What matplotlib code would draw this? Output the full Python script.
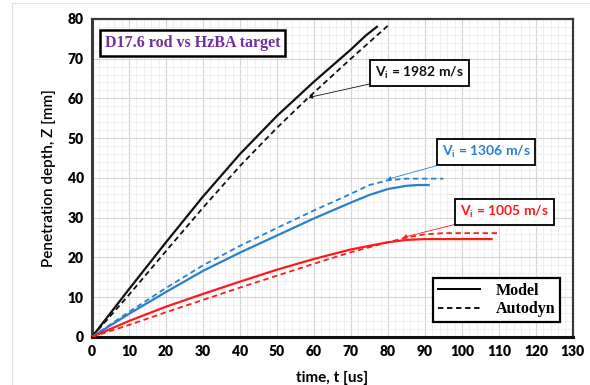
import numpy as np
import matplotlib
matplotlib.use("Agg")
import matplotlib.pyplot as plt
from matplotlib.patches import Rectangle

# penetration depth Z [mm] vs time t [us]
t_1982_model = [0, 10, 20, 30, 40, 50, 60, 70, 74, 77]
z_1982_model = [0, 12.0, 23.8, 35.3, 46.0, 55.6, 64.2, 72.3, 75.8, 78.0]
t_1982_auto = [0, 10, 20, 30, 40, 50, 58.5, 70, 80]
z_1982_auto = [0, 10.6, 21.6, 32.5, 43.0, 52.6, 60.2, 70.0, 78.3]

t_1306_model = [0, 10, 20, 30, 40, 50, 60, 70, 75, 80, 85, 88, 91]
z_1306_model = [0, 5.8, 11.3, 16.6, 21.2, 25.5, 29.8, 33.8, 35.7, 37.2, 38.0, 38.2, 38.2]
t_1306_auto = [0, 10, 20, 30, 40, 50, 60, 70, 75, 80, 85, 95]
z_1306_auto = [0, 6.3, 12.3, 18.0, 22.9, 27.4, 31.8, 36.0, 38.2, 39.4, 39.8, 39.8]

t_1005_model = [0, 10, 20, 30, 40, 50, 60, 70, 80, 85, 90, 108]
z_1005_model = [0, 4.0, 7.6, 10.8, 13.9, 16.9, 19.6, 22.0, 23.8, 24.4, 24.6, 24.6]
t_1005_auto = [0, 10, 20, 30, 40, 50, 60, 70, 80, 85, 90, 95, 110]
z_1005_auto = [0, 3.0, 6.2, 9.3, 12.4, 15.4, 18.4, 21.3, 23.8, 25.0, 25.8, 26.1, 26.1]

labels = ["$\\mathregular{V_i}$ = 1982 m/s", "$\\mathregular{V_i}$ = 1306 m/s", "$\\mathregular{V_i}$ = 1005 m/s"]
colors = ["#111111", "#2a7fd0", "#ff1a1a"]

plt.rcParams['font.family'] = ['Lato', 'DejaVu Sans']
plt.rcParams['mathtext.fontset'] = 'custom'
plt.rcParams['mathtext.rm'] = 'Lato:bold'

fig = plt.figure(figsize=(5.9, 3.85), dpi=100)
ax = fig.add_axes([0.156, 0.125, 0.815, 0.826])

# faint outer frame of the screenshot
fig.add_artist(Rectangle((12 / 590, -0.05), 1.0, 1.042,
                         transform=fig.transFigure, fill=False, ec="#e3e3e3", lw=0.8))

series = [
    (t_1982_model, z_1982_model, t_1982_auto, z_1982_auto),
    (t_1306_model, z_1306_model, t_1306_auto, z_1306_auto),
    (t_1005_model, z_1005_model, t_1005_auto, z_1005_auto),
]
for (tm, zm, ta, za), c in zip(series, colors):
    ax.plot(tm, zm, color=c, lw=1.6, zorder=3)
    ax.plot(ta, za, color=c, lw=1.3, ls=(0, (3, 2)), zorder=3)

ax.set_xlim(0, 130)
ax.set_ylim(0, 80)
ax.set_xticks(np.arange(0, 131, 10))
ax.set_yticks(np.arange(0, 81, 10))
ax.set_xticks(np.arange(0, 131, 2), minor=True)
ax.set_yticks(np.arange(0, 81, 2), minor=True)
ax.grid(which="major", color="#d4d4d4", lw=0.8)
ax.grid(which="minor", color="#ededed", lw=0.6)
ax.set_axisbelow(True)
ax.tick_params(which="both", length=0)
ax.tick_params(labelsize=10, pad=6)
for lab in ax.get_xticklabels() + ax.get_yticklabels():
    lab.set_fontweight("heavy")
for s in ax.spines.values():
    s.set_color("#3a3a3a")
    s.set_linewidth(1.6)
ax.spines["left"].set_linewidth(2.2)
ax.spines["bottom"].set_linewidth(2.2)
ax.spines["bottom"].set_color("#111111")

ax.set_ylabel("Penetration depth, Z [mm]", fontsize=11, fontweight="semibold", labelpad=8)
ax.set_xlabel("time, t [us]", fontsize=11, fontweight="bold", labelpad=9)

# title box
ax.text(3.5, 74, "D17.6 rod vs HzBA target", family="Liberation Serif", fontweight="bold",
        fontsize=11.5, color="#7030a0", va="center", ha="left",
        bbox=dict(boxstyle="square,pad=0.3", fc="white", ec="black", lw=1.8))

# velocity labels with arrows
ann = [
    ((58.5, 60.2), (76.5, 66.4)),
    ((79.7, 39.6), (94.5, 46.5)),
    ((84.0, 25.0), (99.5, 31.4)),
]
for (xy, xytext), lab, c in zip(ann, labels, colors):
    ax.annotate(lab, xy=xy, xytext=xytext, fontsize=10, fontweight="bold", color=c,
                va="center", ha="left",
                bbox=dict(boxstyle="square,pad=0.35", fc="white", ec="black", lw=1.3),
                arrowprops=dict(arrowstyle="-|>", color=c, lw=0.6, mutation_scale=6,
                                shrinkA=0, shrinkB=0))

# legend
leg_handles = [plt.Line2D([], [], color="black", lw=1.4),
               plt.Line2D([], [], color="black", lw=1.3, ls=(0, (3, 2)))]
leg = ax.legend(leg_handles, ["Model", "Autodyn"], loc="lower right",
                bbox_to_anchor=(0.973, 0.047), borderaxespad=0, fancybox=False,
                edgecolor="black", prop=dict(family="Liberation Serif", weight="bold", size=11.5),
                handlelength=2.6, handletextpad=1.0, borderpad=0.3, labelspacing=0.15,
                framealpha=1)
leg.get_frame().set_linewidth(1.6)

fig.savefig("out.png", dpi=100)
